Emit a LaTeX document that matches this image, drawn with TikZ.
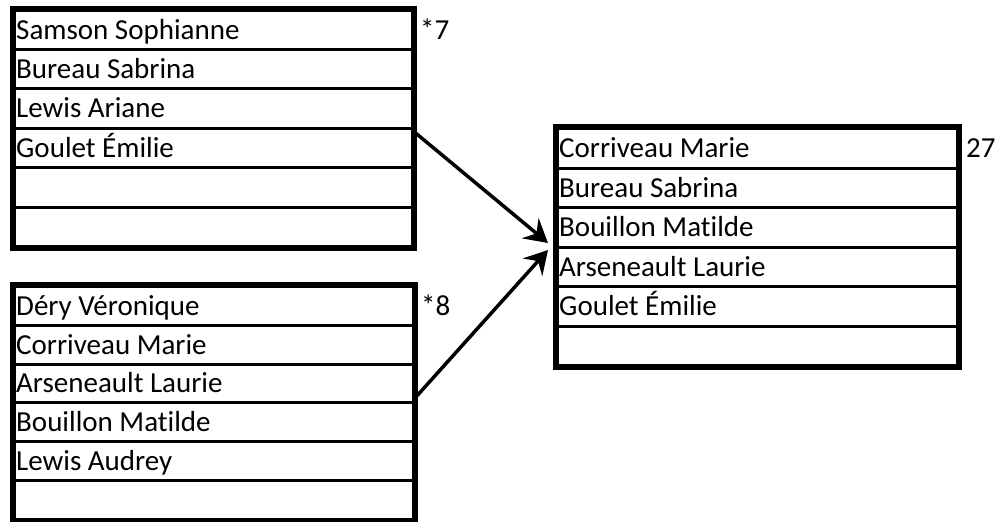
\documentclass[tikz,border=0pt]{standalone}
\usepackage{fontspec}
\setmainfont[Ligatures=NoCommon]{Carlito}
\usetikzlibrary{arrows.meta}
\tikzset{
  cell/.style={draw, line width=3pt, anchor=north west, minimum height=#1, inner sep=0pt},
  txt/.style={anchor=west, inner xsep=3pt, inner ysep=0pt, text height=18.7pt, text depth=0pt,
    font=\fontsize{29}{29}\selectfont},
  frame/.style={draw, line width=6pt},
  lbl/.style={anchor=west, inner sep=0pt, text height=18.7pt, text depth=0pt,
    font=\fontsize{29}{29}\selectfont},
  link/.style={line width=3.5pt, -{Stealth[length=23pt, width=26pt, inset=8pt]}}
}
\begin{document}
\begin{tikzpicture}[x=1pt, y=-1pt]
\useasboundingbox (0,0) rectangle (996,522);
% box 1
\foreach [count=\i] \t in {Samson Sophianne, Bureau Sabrina, Lewis Ariane, Goulet Émilie, {}, {}}
  \node[cell=39.4pt, minimum width=398pt, label={[txt]west:\t}] (a\i) at (13, 8.5+\i*39.4-39.4) {};
\draw[frame] (a1.north west) rectangle (a6.south east);
\node[lbl] (n7) at ([xshift=6pt]a1.east) {*7};
% box 2
\foreach [count=\i] \t in {Déry Véronique, Corriveau Marie, Arseneault Laurie, Bouillon Matilde, Lewis Audrey, {}}
  \node[cell=38.8pt, minimum width=399pt, label={[txt]west:\t}] (b\i) at (13, 285+\i*38.8-38.8) {};
\draw[frame] (b1.north west) rectangle (b6.south east);
\node[lbl] (n8) at ([xshift=6pt]b1.east) {*8};
% box 3
\foreach [count=\i] \t in {Corriveau Marie, Bureau Sabrina, Bouillon Matilde, Arseneault Laurie, Goulet Émilie, {}}
  \node[cell=39.5pt, minimum width=400pt, label={[txt]west:\t}] (c\i) at (556, 127+\i*39.5-39.5) {};
\draw[frame] (c1.north west) rectangle (c6.south east);
\node[lbl] (n27) at ([xshift=7pt]c1.east) {27};
% arrows
\coordinate (s1) at ([yshift=-5pt]a4.north east);
\coordinate (e1) at ([xshift=-8pt, yshift=5.5pt]c3.south west);
\coordinate (s2) at ([yshift=6.4pt]b3.south east);
\coordinate (e2) at ([xshift=-8pt, yshift=-4.5pt]c4.north west);
\draw[link] (s1) -- (e1);
\draw[link] (s2) -- (e2);
\end{tikzpicture}
\end{document}
